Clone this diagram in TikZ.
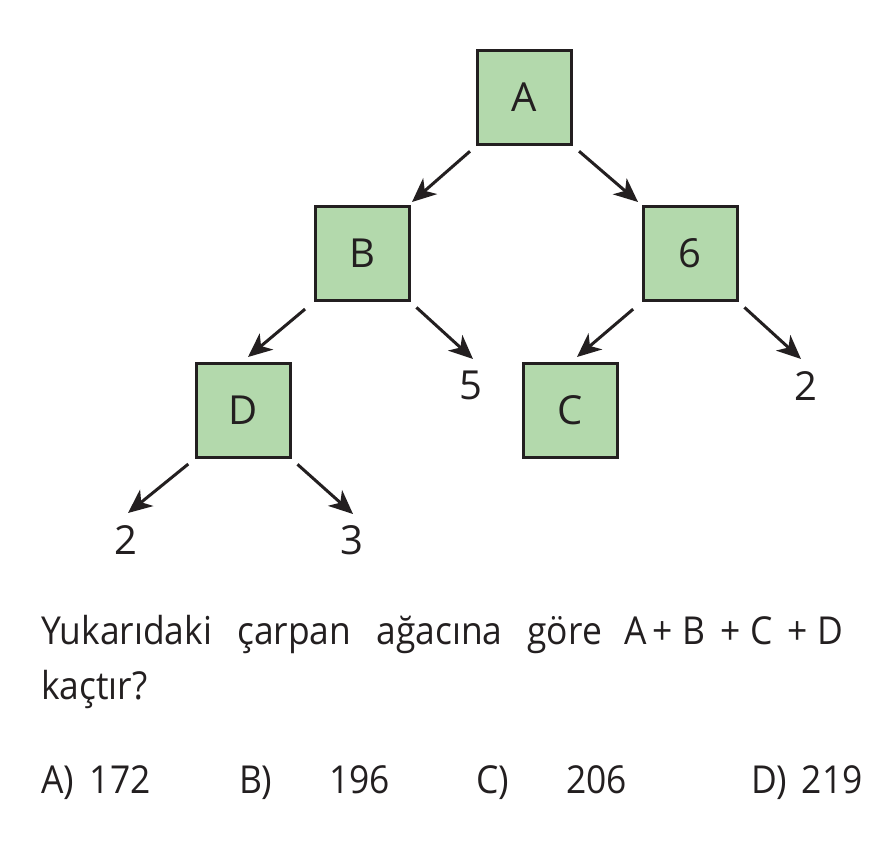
\documentclass[tikz,border=0pt]{standalone}
\usepackage{fontspec}
\setmainfont{Open Sans}
\newfontfamily\bodyfont{Open Sans}[FakeStretch=0.92]
\usetikzlibrary{arrows.meta}
\definecolor{boxfill}{HTML}{B3D9AC}
\definecolor{ink}{HTML}{231F20}
\tikzset{
  tbox/.style={draw=ink, fill=boxfill, line width=3pt, minimum size=94pt, inner sep=0pt,
    font=\fontsize{40}{44}\selectfont, text=ink},
  leaf/.style={anchor=base, inner sep=0pt, font=\fontsize{40}{44}\selectfont, text=ink},
  txt/.style={anchor=base west, inner sep=0pt, outer sep=0pt, font=\bodyfont\fontsize{38.5}{42}\selectfont, text=ink},
  arr/.style={draw=ink, line width=3pt, -{Stealth[length=24pt,width=21pt,inset=7pt]}},
}
\begin{document}
\begin{tikzpicture}[x=1pt,y=-1pt]
\useasboundingbox[fill=white] (0,0) rectangle (894,841);
% boxes
\node[tbox] (A) at (524.5,97.5) {A};
\node[tbox] (B) at (362,253.5) {B};
\node[tbox] (S) at (690,253.5) {6};
\node[tbox] (D) at (243,410.5) {D};
\node[tbox] (C) at (570.5,410.5) {C};
% leaf labels
\node[leaf] (L5) at (470.5,399) {5};
\node[leaf] (L2r) at (806,400) {2};
\node[leaf] (L2l) at (126,554) {2};
\node[leaf] (L3) at (351.5,554) {3};
% arrow tips
\coordinate (tAB) at (412,202);
\coordinate (tAS) at (638,202);
\coordinate (tBD) at (248,357);
\coordinate (tB5) at (473,359);
\coordinate (tSC) at (577,357);
\coordinate (tS2) at (801,359);
\coordinate (tD2) at (128,513);
\coordinate (tD3) at (353,514);
% arrows
\draw[arr, shorten <=8pt] (A.south west) -- (tAB);
\draw[arr, shorten <=8pt] (A.south east) -- (tAS);
\draw[arr, shorten <=11pt] (B.south west) -- (tBD);
\draw[arr, shorten <=8pt] (B.south east) -- (tB5);
\draw[arr, shorten <=11pt] (S.south west) -- (tSC);
\draw[arr, shorten <=8pt] (S.south east) -- (tS2);
\draw[arr, shorten <=8pt] (D.south west) -- (tD2);
\draw[arr, shorten <=8pt] (D.south east) -- (tD3);
% question text
\node[txt] (q1) at (41,644) {\makebox[561pt][s]{Yukarıdaki çarpan ağacına göre}\hspace{23pt}\makebox[28pt][l]{A}\makebox[30pt][l]{+}\makebox[37pt][l]{B}\makebox[30pt][l]{+}\makebox[37pt][l]{C}\makebox[30pt][l]{+}D};
\node[txt] (q2) at (41,699) {kaçtır?};
% answers
\node[txt] (ansA) at (41,793) {\makebox[49pt][l]{A)}172};
\node[txt] (ansB) at (239,793) {\makebox[90pt][l]{B)}196};
\node[txt] (ansC) at (476,793) {\makebox[90pt][l]{C)}206};
\node[txt] (ansD) at (751,793) {\makebox[51pt][l]{D)}219};
\end{tikzpicture}
\end{document}
